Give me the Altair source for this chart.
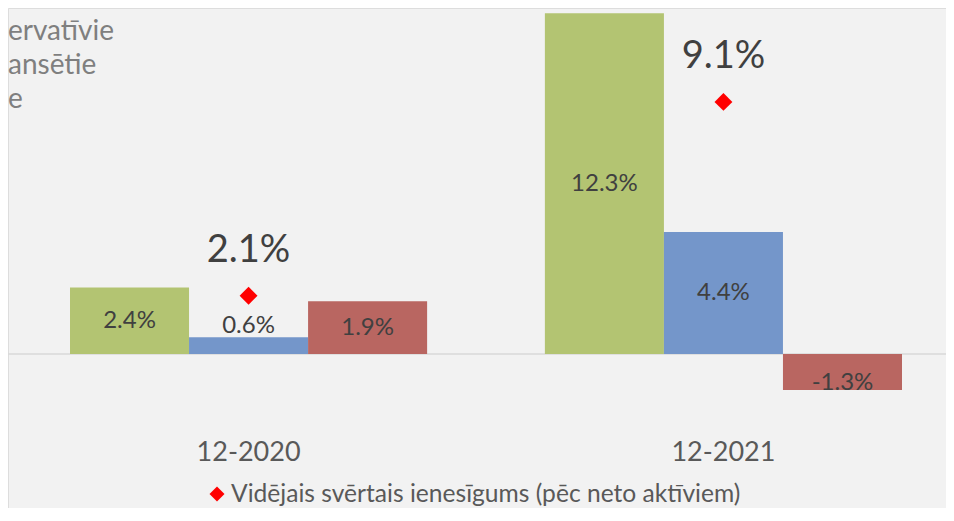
import altair as alt
import pandas as pd

categories = ["12-2020", "12-2021"]
series = ["Konservatīvie", "Sabalansētie", "Aktīvie"]
legend_fragments = ["ervatīvie", "ansētie", "e"]
conservative = [2.4, 12.3]
balanced = [0.6, 4.4]
active = [1.9, -1.3]
weighted_avg = [2.1, 9.1]
avg_label = "Vidējais svērtais ienesīgums (pēc neto aktīviem)"
colors = ["#b3c472", "#7496ca", "#b96661"]

rows = []
for i, c in enumerate(categories):
    for s, vals in zip(series, [conservative, balanced, active]):
        v = vals[i]
        if v < 0:
            ly = v / 2 - 0.4
        elif v < 1:
            ly = v + 0.4
        else:
            ly = v / 2
        rows.append({"cat": c, "series": s, "v": v, "ly": ly, "lab": f"{v:.1f}%"})
bars_df = pd.DataFrame(rows)
avg_df = pd.DataFrame({"cat": categories, "v": weighted_avg,
                       "lab": [f"{v:.1f}%" for v in weighted_avg]})

W, H = 938, 500
FONT = "Lato"
x_scale = alt.Scale(domain=categories, range=[62, 894], paddingInner=0.248, paddingOuter=0)
y_scale = alt.Scale(domain=[-5.56, 12.49], nice=False, zero=False)
xo = alt.XOffset("series:N", scale=alt.Scale(domain=series, paddingInner=0, paddingOuter=0))
X = alt.X("cat:N", scale=x_scale, axis=None)

base_bars = alt.Chart(bars_df)
bars = base_bars.mark_bar().encode(
    x=X, xOffset=xo,
    y=alt.Y("v:Q", scale=y_scale, axis=None),
    y2=alt.datum(0),
    color=alt.Color("series:N", scale=alt.Scale(domain=series, range=colors), legend=None),
)
rule = alt.Chart(pd.DataFrame({"z": [0]})).mark_rule(color="#d9d9d9", strokeWidth=1.5).encode(
    y=alt.Y("z:Q", scale=y_scale, axis=None), x=alt.value(0), x2=alt.value(W)
)
bar_labels = base_bars.mark_text(fontSize=24, color="#404040", baseline="middle").encode(
    x=X, xOffset=xo, y=alt.Y("ly:Q", scale=y_scale, axis=None), text="lab:N"
)
base_avg = alt.Chart(avg_df)
diamonds = base_avg.mark_point(shape="diamond", filled=True, size=320, color="#ff0000", opacity=1).encode(
    x=X, y=alt.Y("v:Q", scale=y_scale, axis=None)
)
avg_labels = base_avg.mark_text(fontSize=38, color="#404040", dy=-45, baseline="middle").encode(
    x=X, y=alt.Y("v:Q", scale=y_scale, axis=None), text="lab:N"
)
cat_labels = base_avg.mark_text(fontSize=27, color="#595959", baseline="middle").encode(
    x=X, y=alt.value(445), text="cat:N"
)
frag_layers = []
for i, t in enumerate(legend_fragments):
    frag_layers.append(
        alt.Chart(pd.DataFrame({"t": [t]})).mark_text(
            fontSize=28, color="#7f7f7f", align="left", baseline="middle"
        ).encode(x=alt.value(0), y=alt.value(24 + 34 * i), text="t:N")
    )
leg_df = pd.DataFrame({"t": [avg_label]})
leg_diamond = alt.Chart(leg_df).mark_point(shape="diamond", filled=True, size=225, color="#ff0000", opacity=1).encode(
    x=alt.value(209), y=alt.value(486)
)
leg_text = alt.Chart(leg_df).mark_text(fontSize=24.6, color="#595959", align="left", baseline="alphabetic").encode(
    x=alt.value(223), y=alt.value(494), text="t:N"
)

chart = alt.layer(
    rule, bars, bar_labels, diamonds, avg_labels, cat_labels, *frag_layers, leg_diamond, leg_text
).properties(
    width=W, height=H, autosize=alt.AutoSizeParams(type="none"), padding=0,
    background="#f2f2f2",
).configure_view(stroke=None).configure(font=FONT)

chart.save("out.html", embed_options={"renderer": "svg", "actions": False})
